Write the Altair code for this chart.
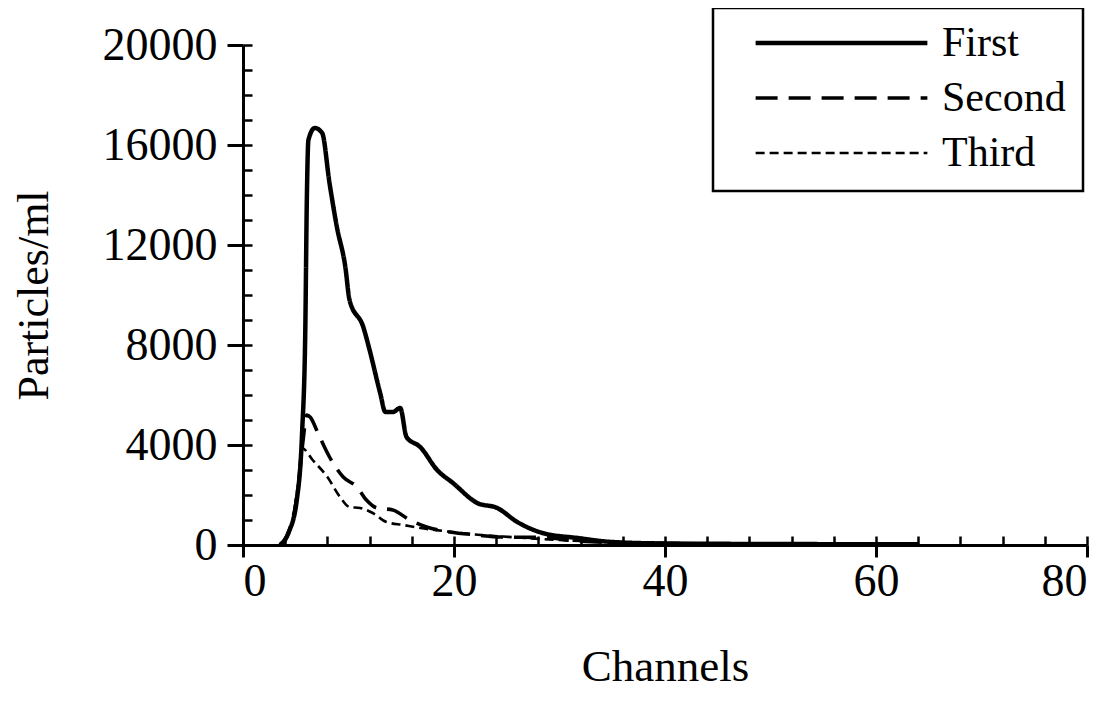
import altair as alt
import pandas as pd

series_names = ["First", "Second", "Third"]

first_x = [3.5, 4.3, 5.1, 5.6, 5.9, 6.05, 6.2, 6.8, 7.5, 8.2, 8.9, 9.7, 10.1, 11.4, 12.0, 13.0, 13.5, 14.2,
           14.9, 15.5, 16.8, 18.4, 19.9, 22.2, 24.1, 26.0, 28.4, 31.7, 35, 40, 50, 64]
first_y = [0, 480, 1800, 4480, 8480, 13800, 16200, 16680, 16480, 14480, 12720, 11120, 9800, 8720, 7800, 6080,
           5320, 5320, 5480, 4320, 3920, 3000, 2480, 1680, 1480, 920, 480, 280, 120, 60, 40, 30]

second_x = [3.5, 4.4, 5.2, 5.7, 6.05, 6.4, 7.1, 8.2, 9.5, 10.8, 11.7, 12.7, 14.2, 15.8, 17.4, 19.6, 22.2,
            24.4, 28.4, 32, 40, 50, 64]
second_y = [0, 600, 2200, 4200, 5200, 5100, 4480, 3520, 2720, 2320, 1800, 1480, 1400, 1000, 720, 520, 400,
            320, 300, 150, 60, 40, 30]

third_x = [3.5, 4.4, 5.2, 5.6, 6.6, 8.0, 9.2, 10.1, 11.1, 12.3, 13.6, 15.2, 16.8, 19, 22, 26, 30, 40, 50, 64]
third_y = [0, 500, 2400, 3880, 3400, 2720, 1920, 1520, 1480, 1280, 920, 800, 680, 560, 420, 300, 200, 80,
           40, 30]

x_major = [0, 20, 40, 60, 80]
x_minor = list(range(0, 81, 4))
y_major = [0, 4000, 8000, 12000, 16000, 20000]
y_minor = list(range(0, 20001, 1000))

rows = []
for name, xs, ys in [("First", first_x, first_y), ("Second", second_x, second_y), ("Third", third_x, third_y)]:
    for xv, yv in zip(xs, ys):
        rows.append({"series": name, "channel": xv, "value": yv})
df = pd.DataFrame(rows)

FONT = "Liberation Serif"
xscale = alt.Scale(domain=[0, 80], nice=False, zero=False)
yscale = alt.Scale(domain=[0, 20000], nice=False)

legend = alt.Legend(
    title=None, orient="none", legendX=470, legendY=-37,
    symbolType="stroke", symbolSize=29500, symbolStrokeColor="black",
    labelFont=FONT, labelFontSize=42, labelColor="black", labelOffset=12,
    padding=17, symbolOffset=23, rowPadding=13, clipHeight=36,
    strokeColor="black",
)

lines = alt.Chart(df).mark_line(interpolate="monotone", color="black").encode(
    x=alt.X("channel:Q", scale=xscale, axis=alt.Axis(
        values=x_major, format="d", tickSize=12, tickWidth=3, domainWidth=3, domainColor="black",
        tickColor="black", labelFont=FONT, labelFontSize=46, labelColor="black", labelPadding=2, grid=False,
        title="Channels", titleFont=FONT, titleFontSize=45, titleFontWeight="normal", titleColor="black",
        titlePadding=40)),
    y=alt.Y("value:Q", scale=yscale, axis=alt.Axis(
        values=y_major, format="d", tickSize=16, tickWidth=3, domainWidth=3, domainColor="black",
        tickColor="black", labelFont=FONT, labelFontSize=46, labelColor="black", labelPadding=10, grid=False,
        title="Particles/ml", titleFont=FONT, titleFontSize=44, titleFontWeight="normal", titleColor="black",
        titlePadding=46)),
    strokeDash=alt.StrokeDash("series:N", scale=alt.Scale(domain=series_names, range=[[1, 0], [22, 11], [9, 5]]),
                              legend=legend),
    strokeWidth=alt.StrokeWidth("series:N", scale=alt.Scale(domain=series_names, range=[4.5, 2.6, 2.4]),
                                legend=legend),
    detail="series:N",
)

inner = alt.Chart(df).mark_line(opacity=0).encode(
    x=alt.X("channel:Q", scale=xscale, axis=alt.Axis(
        orient="bottom", offset=-9, values=x_minor, tickSize=9, tickWidth=2.5, tickColor="black",
        domain=False, labels=False, title=None, grid=False)),
    y=alt.Y("value:Q", scale=yscale, axis=alt.Axis(
        orient="left", offset=-9, values=y_minor, tickSize=9, tickWidth=2.5, tickColor="black",
        domain=False, labels=False, title=None, grid=False)),
)

chart = alt.layer(lines, inner).resolve_axis(x="independent", y="independent").properties(
    width=844, height=500,
    autosize=alt.AutoSizeParams(type="none"),
    padding={"left": 235, "top": 37, "right": 12, "bottom": 148},
    background="white",
).configure_view(stroke=None).configure_legend(strokeWidth=2.5)

chart.save("out.html", embed_options={"renderer": "svg", "actions": False})
